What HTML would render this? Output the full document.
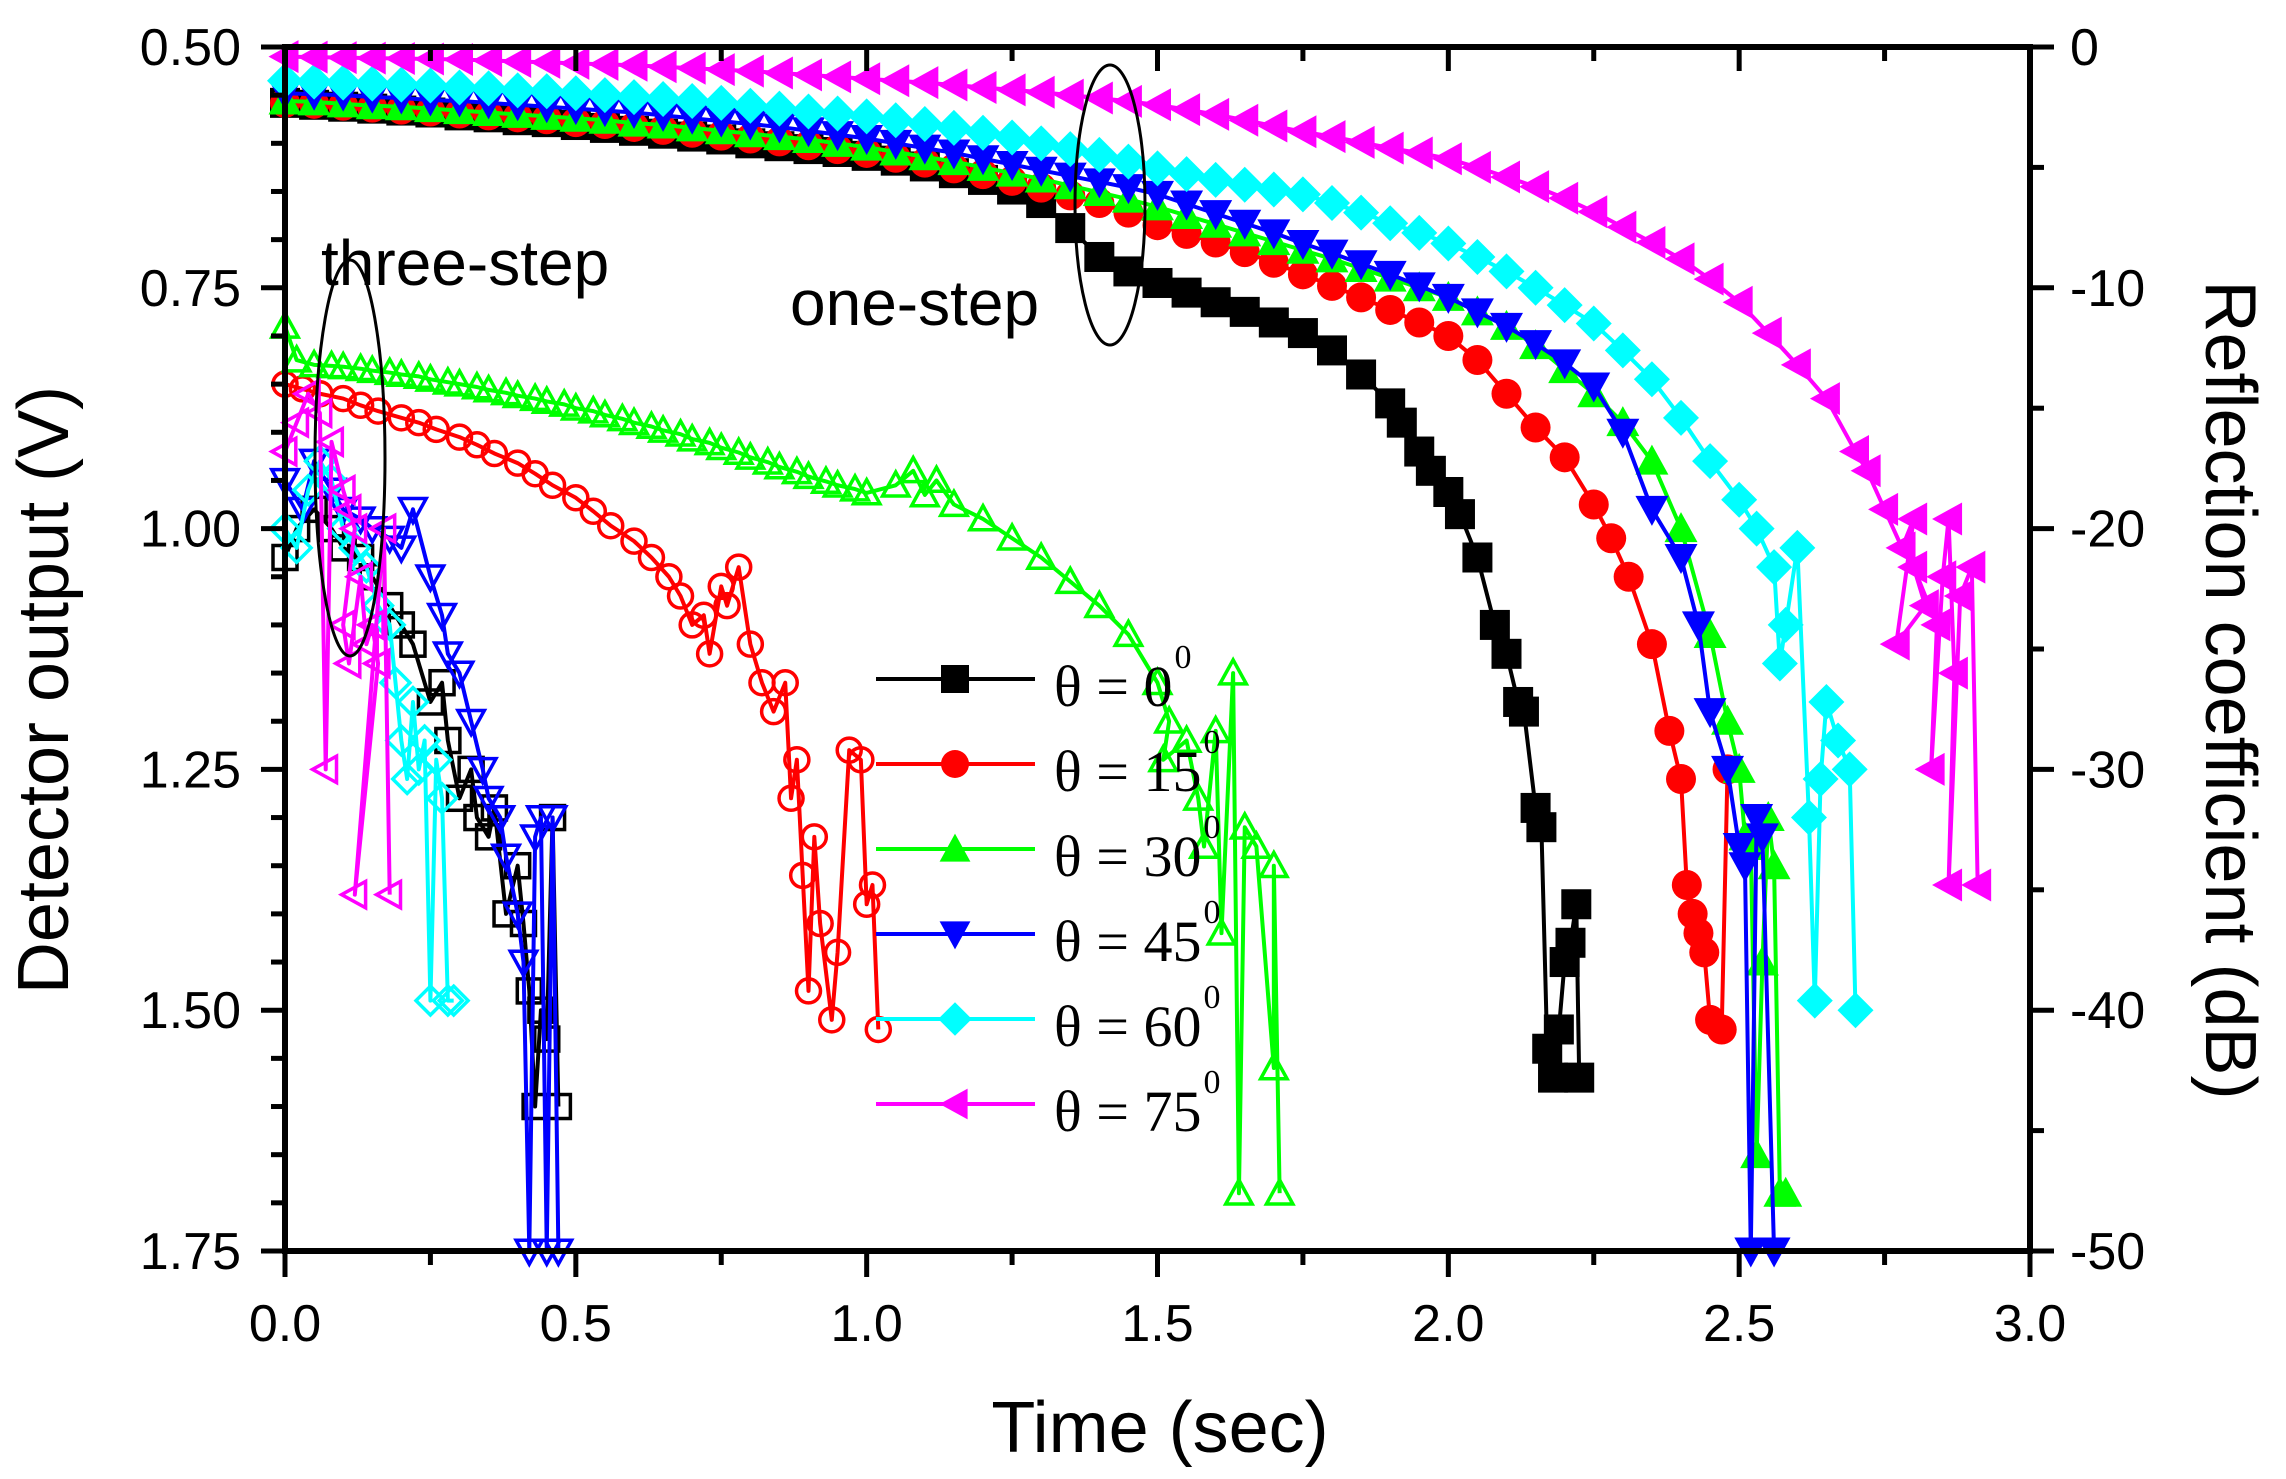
<!DOCTYPE html>
<html><head><meta charset="utf-8"><style>
html,body{margin:0;padding:0;background:#fff;}
svg{display:block;}
</style></head><body>
<svg id="chart" width="2286" height="1479" viewBox="0 0 2286 1479" xmlns="http://www.w3.org/2000/svg">
<rect width="2286" height="1479" fill="#fff"/>
<g id="marks"></g>
<g id="axes"></g>
<text transform="translate(68,690) rotate(-90)" text-anchor="middle" font-family="Liberation Sans, sans-serif" font-size="72">Detector output (V)</text>
<text transform="translate(2206,690) rotate(90)" text-anchor="middle" font-family="Liberation Sans, sans-serif" font-size="72">Reflection coefficient (dB)</text>
<text x="1160" y="1452" text-anchor="middle" font-family="Liberation Sans, sans-serif" font-size="72">Time (sec)</text>
<text x="321" y="285" font-family="Liberation Sans, sans-serif" font-size="64">three-step</text>
<text x="790" y="325" font-family="Liberation Sans, sans-serif" font-size="64">one-step</text>
<ellipse cx="350" cy="458" rx="35" ry="198" fill="none" stroke="#000" stroke-width="3"/>
<ellipse cx="1110" cy="205" rx="35" ry="140" fill="none" stroke="#000" stroke-width="3"/>
<g id="legend"></g>
</svg>
<script>
// ---- data (time in s, detector output in V) ----
const labels = ["0","15","30","45","60","75"];
const colors = ["#000000","#ff0000","#00ff00","#0000ff","#00ffff","#ff00ff"];
const shapes = ["square","circle","up","down","diamond","left"];

// one-step (filled markers)
const t0f=[0,0.05,0.1,0.15,0.2,0.25,0.3,0.35,0.4,0.45,0.5,0.55,0.6,0.65,0.7,0.75,0.8,0.85,0.9,0.95,1.0,1.05,1.1,1.15,1.2,1.25,1.3,1.35,1.4,1.45,1.5,1.55,1.6,1.65,1.7,1.75,1.8,1.85,1.9,1.92,1.95,1.97,2.0,2.02,2.05,2.08,2.1,2.12,2.13,2.15,2.16,2.17,2.18,2.19,2.2,2.21,2.22,2.225];
const v0f=[0.558,0.56,0.562,0.564,0.566,0.568,0.571,0.573,0.576,0.578,0.581,0.584,0.587,0.59,0.593,0.596,0.6,0.603,0.606,0.609,0.613,0.618,0.624,0.631,0.638,0.648,0.662,0.688,0.718,0.733,0.745,0.755,0.765,0.775,0.786,0.797,0.815,0.84,0.87,0.89,0.92,0.94,0.962,0.985,1.03,1.1,1.13,1.18,1.19,1.29,1.31,1.54,1.57,1.52,1.45,1.43,1.39,1.57];
const t15f=[0,0.05,0.1,0.15,0.2,0.25,0.3,0.35,0.4,0.45,0.5,0.55,0.6,0.65,0.7,0.75,0.8,0.85,0.9,0.95,1.0,1.05,1.1,1.15,1.2,1.25,1.3,1.35,1.4,1.45,1.5,1.55,1.6,1.65,1.7,1.75,1.8,1.85,1.9,1.95,2.0,2.05,2.1,2.15,2.2,2.25,2.28,2.31,2.35,2.38,2.4,2.41,2.42,2.43,2.44,2.45,2.47,2.48];
const v15f=[0.558,0.559,0.561,0.563,0.565,0.567,0.569,0.571,0.573,0.575,0.578,0.58,0.583,0.586,0.589,0.592,0.595,0.598,0.602,0.606,0.61,0.615,0.62,0.626,0.632,0.639,0.646,0.654,0.662,0.672,0.685,0.694,0.703,0.713,0.724,0.736,0.748,0.76,0.773,0.786,0.8,0.825,0.86,0.895,0.926,0.975,1.01,1.05,1.12,1.21,1.26,1.37,1.4,1.42,1.44,1.51,1.52,1.25];
const t30f=[0,0.05,0.1,0.15,0.2,0.25,0.3,0.35,0.4,0.45,0.5,0.55,0.6,0.65,0.7,0.75,0.8,0.85,0.9,0.95,1.0,1.05,1.1,1.15,1.2,1.25,1.3,1.35,1.4,1.45,1.5,1.55,1.6,1.65,1.7,1.75,1.8,1.85,1.9,1.95,2.0,2.05,2.1,2.15,2.2,2.25,2.3,2.35,2.4,2.45,2.48,2.5,2.51,2.52,2.53,2.54,2.55,2.56,2.57,2.58];
const v30f=[0.556,0.557,0.559,0.561,0.562,0.564,0.566,0.568,0.57,0.572,0.574,0.576,0.579,0.581,0.584,0.587,0.59,0.593,0.596,0.6,0.604,0.609,0.614,0.619,0.625,0.631,0.637,0.644,0.651,0.658,0.666,0.675,0.684,0.693,0.702,0.711,0.72,0.73,0.74,0.75,0.76,0.775,0.79,0.81,0.835,0.86,0.89,0.93,1.0,1.11,1.2,1.25,1.32,1.33,1.65,1.45,1.3,1.35,1.69,1.69];
const t45f=[0,0.05,0.1,0.15,0.2,0.25,0.3,0.35,0.4,0.45,0.5,0.55,0.6,0.65,0.7,0.75,0.8,0.85,0.9,0.95,1.0,1.05,1.1,1.15,1.2,1.25,1.3,1.35,1.4,1.45,1.5,1.55,1.6,1.65,1.7,1.75,1.8,1.85,1.9,1.95,2.0,2.05,2.1,2.15,2.2,2.25,2.3,2.35,2.4,2.43,2.45,2.48,2.5,2.51,2.52,2.53,2.54,2.56];
const v45f=[0.548,0.549,0.55,0.552,0.553,0.555,0.556,0.558,0.56,0.562,0.564,0.566,0.568,0.571,0.574,0.577,0.58,0.583,0.587,0.591,0.595,0.6,0.605,0.61,0.616,0.622,0.628,0.634,0.64,0.646,0.653,0.663,0.673,0.683,0.693,0.704,0.714,0.725,0.736,0.748,0.76,0.775,0.79,0.808,0.828,0.852,0.9,0.98,1.03,1.1,1.19,1.25,1.33,1.35,1.75,1.3,1.32,1.75];
const t60f=[0,0.05,0.1,0.15,0.2,0.25,0.3,0.35,0.4,0.45,0.5,0.55,0.6,0.65,0.7,0.75,0.8,0.85,0.9,0.95,1.0,1.05,1.1,1.15,1.2,1.25,1.3,1.35,1.4,1.45,1.5,1.55,1.6,1.65,1.7,1.75,1.8,1.85,1.9,1.95,2.0,2.05,2.1,2.15,2.2,2.25,2.3,2.35,2.4,2.45,2.5,2.53,2.56,2.57,2.58,2.6,2.62,2.63,2.64,2.65,2.67,2.69,2.7];
const v60f=[0.535,0.536,0.537,0.538,0.539,0.54,0.542,0.543,0.545,0.546,0.548,0.55,0.552,0.554,0.556,0.558,0.561,0.564,0.567,0.569,0.572,0.576,0.58,0.584,0.589,0.594,0.6,0.606,0.612,0.619,0.626,0.632,0.638,0.643,0.648,0.653,0.662,0.672,0.683,0.693,0.704,0.718,0.733,0.75,0.768,0.787,0.815,0.845,0.885,0.93,0.97,1.0,1.04,1.14,1.1,1.02,1.3,1.49,1.26,1.18,1.22,1.25,1.5];
const t75f=[0,0.05,0.1,0.15,0.2,0.25,0.3,0.35,0.4,0.45,0.5,0.55,0.6,0.65,0.7,0.75,0.8,0.85,0.9,0.95,1.0,1.05,1.1,1.15,1.2,1.25,1.3,1.35,1.4,1.45,1.5,1.55,1.6,1.65,1.7,1.75,1.8,1.85,1.9,1.95,2.0,2.05,2.1,2.15,2.2,2.25,2.3,2.35,2.4,2.45,2.5,2.55,2.6,2.65,2.7,2.72,2.75,2.78,2.8,2.77,2.82,2.8,2.84,2.83,2.85,2.86,2.87,2.86,2.88,2.9,2.91];
const v75f=[0.51,0.5105,0.511,0.5115,0.512,0.5125,0.513,0.514,0.515,0.516,0.517,0.518,0.519,0.5205,0.522,0.5235,0.525,0.527,0.529,0.531,0.533,0.535,0.537,0.5395,0.542,0.5445,0.547,0.55,0.553,0.5565,0.56,0.565,0.57,0.576,0.582,0.588,0.593,0.599,0.605,0.61,0.616,0.625,0.635,0.645,0.657,0.671,0.687,0.703,0.72,0.741,0.765,0.797,0.83,0.865,0.92,0.94,0.98,1.02,0.99,1.12,1.08,1.04,1.1,1.25,1.05,0.99,1.15,1.37,1.07,1.04,1.37];

// three-step (open markers)
const t0o=[0,0.02,0.05,0.08,0.1,0.13,0.15,0.18,0.2,0.22,0.25,0.27,0.28,0.3,0.32,0.33,0.35,0.36,0.38,0.4,0.41,0.42,0.43,0.44,0.45,0.46,0.47];
const v0o=[1.03,1.0,0.98,1.0,1.02,1.03,1.05,1.08,1.1,1.12,1.18,1.16,1.22,1.28,1.25,1.3,1.32,1.29,1.4,1.35,1.41,1.48,1.6,1.5,1.53,1.3,1.6];
const t15o=[0,0.03,0.06,0.1,0.13,0.16,0.2,0.23,0.26,0.3,0.33,0.36,0.4,0.43,0.46,0.5,0.53,0.56,0.6,0.63,0.66,0.68,0.7,0.72,0.73,0.75,0.76,0.78,0.8,0.82,0.84,0.86,0.87,0.88,0.89,0.9,0.91,0.92,0.94,0.95,0.97,0.99,1.0,1.01,1.02];
const v15o=[0.85,0.855,0.86,0.865,0.872,0.878,0.885,0.89,0.897,0.905,0.913,0.922,0.932,0.943,0.955,0.968,0.982,0.997,1.013,1.03,1.05,1.07,1.1,1.09,1.13,1.06,1.08,1.04,1.12,1.16,1.19,1.16,1.28,1.24,1.36,1.48,1.32,1.41,1.51,1.44,1.23,1.24,1.39,1.37,1.52];
const t30o=[0,0.02,0.05,0.08,0.1,0.13,0.15,0.18,0.2,0.23,0.25,0.28,0.3,0.33,0.35,0.38,0.4,0.43,0.45,0.48,0.5,0.53,0.55,0.58,0.6,0.63,0.65,0.68,0.7,0.73,0.75,0.78,0.8,0.83,0.85,0.88,0.9,0.93,0.95,0.98,1.0,1.05,1.08,1.1,1.12,1.15,1.2,1.25,1.3,1.35,1.4,1.45,1.5,1.52,1.51,1.55,1.57,1.58,1.6,1.61,1.63,1.64,1.65,1.67,1.7,1.7,1.71];
const v30o=[0.79,0.825,0.83,0.831,0.832,0.834,0.836,0.838,0.84,0.842,0.845,0.848,0.85,0.853,0.856,0.859,0.862,0.865,0.868,0.871,0.875,0.878,0.882,0.886,0.89,0.894,0.898,0.902,0.907,0.911,0.916,0.921,0.926,0.931,0.936,0.941,0.946,0.951,0.955,0.959,0.963,0.955,0.94,0.965,0.95,0.975,0.99,1.01,1.03,1.055,1.08,1.11,1.16,1.2,1.24,1.22,1.28,1.33,1.21,1.42,1.15,1.69,1.31,1.33,1.56,1.35,1.69];
const t45o=[0,0.03,0.05,0.08,0.1,0.13,0.15,0.18,0.2,0.22,0.25,0.27,0.28,0.3,0.32,0.34,0.35,0.37,0.38,0.4,0.41,0.42,0.43,0.44,0.45,0.46,0.47];
const v45o=[0.95,0.98,0.93,0.96,0.98,0.99,1.0,1.01,1.02,0.98,1.05,1.09,1.13,1.15,1.2,1.25,1.28,1.3,1.34,1.4,1.45,1.75,1.32,1.3,1.75,1.3,1.75];
const t60o=[0,0.02,0.04,0.06,0.08,0.1,0.12,0.14,0.16,0.18,0.19,0.2,0.21,0.22,0.23,0.24,0.25,0.26,0.27,0.28,0.29];
const v60o=[1.0,1.02,0.96,0.93,0.95,1.0,1.02,1.04,1.08,1.1,1.16,1.22,1.26,1.18,1.25,1.22,1.49,1.24,1.28,1.49,1.49];
const t75o=[0,0.02,0.04,0.06,0.07,0.08,0.1,0.11,0.12,0.1,0.11,0.13,0.14,0.15,0.16,0.12,0.17,0.18];
const v75o=[0.92,0.89,0.86,0.88,1.25,0.91,0.96,0.98,1.0,1.1,1.14,1.05,1.12,1.1,1.14,1.38,1.0,1.38];

const filledT=[t0f,t15f,t30f,t45f,t60f,t75f];
const filledV=[v0f,v15f,v30f,v45f,v60f,v75f];
const openT=[t0o,t15o,t30o,t45o,t60o,t75o];
const openV=[v0o,v15o,v30o,v45o,v60o,v75o];

const xTicks=[0,0.5,1.0,1.5,2.0,2.5,3.0];
const xTickLabels=["0.0","0.5","1.0","1.5","2.0","2.5","3.0"];
const yTicks=[0.5,0.75,1.0,1.25,1.5,1.75];
const yTickLabels=["0.50","0.75","1.00","1.25","1.50","1.75"];
const y2Ticks=[0,-10,-20,-30,-40,-50];
const y2TickLabels=["0","-10","-20","-30","-40","-50"];

// ---- axes geometry ----
const L=285,R=2030,T=47,B=1251;
const xS=t=>L+(t-0)*(R-L)/3;
const yS=v=>T+(v-0.5)*(B-T)/1.25;
const y2S=d=>T+(0-d)*(B-T)/50;
const NS="http://www.w3.org/2000/svg";
function mk(tag,attrs,parent){const e=document.createElementNS(NS,tag);for(const k in attrs)e.setAttribute(k,attrs[k]);parent.appendChild(e);return e;}

function marker(shape,x,y,s,color,filled,parent){
  const f=filled?color:"none",sw=filled?0:3.5;
  const h=s/2;let e;
  if(shape==="square"){e=mk("rect",{x:x-h,y:y-h,width:s,height:s,fill:f,stroke:color,"stroke-width":sw},parent);}
  else if(shape==="circle"){e=mk("circle",{cx:x,cy:y,r:h,fill:f,stroke:color,"stroke-width":sw},parent);}
  else{let p;
    if(shape==="up")p=[[x,y-h*1.1],[x+h*1.1,y+h*0.9],[x-h*1.1,y+h*0.9]];
    else if(shape==="down")p=[[x,y+h*1.1],[x+h*1.1,y-h*0.9],[x-h*1.1,y-h*0.9]];
    else if(shape==="diamond")p=[[x,y-h*1.2],[x+h*1.2,y],[x,y+h*1.2],[x-h*1.2,y]];
    else p=[[x-h*1.1,y],[x+h*0.9,y-h*1.1],[x+h*0.9,y+h*1.1]];
    e=mk("polygon",{points:p.map(q=>q.join(",")).join(" "),fill:f,stroke:color,"stroke-width":sw},parent);}
  return e;
}

const marks=document.getElementById("marks");
function drawSeries(ts,vs,i,filled){
  const g=mk("g",{},marks);
  
  
  const pts=ts.map((t,k)=>xS(t)+","+yS(vs[k])).join(" ");
  const pl=mk("polyline",{points:pts,fill:"none",stroke:colors[i],"stroke-width":4,"stroke-linejoin":"round"},g);
  
  
  ts.forEach((t,k)=>{
    const m=marker(shapes[i],xS(t),yS(vs[k]),filled?30:24,colors[i],filled,g);
    
    
  });
}
for(let i=0;i<6;i++)drawSeries(openT[i],openV[i],i,false);
for(let i=0;i<6;i++)drawSeries(filledT[i],filledV[i],i,true);

// ---- axes ----
const ax=document.getElementById("axes");
const frame=mk("rect",{x:L,y:T,width:R-L,height:B-T,fill:"none",stroke:"#000","stroke-width":6},ax);


const FF="Liberation Sans, sans-serif";
for(let k=0;k<=12;k++){const t=k*0.25,x=xS(t),maj=k%2===0;
  mk("line",{x1:x,y1:B,x2:x,y2:B+(maj?26:14),stroke:"#000","stroke-width":5},ax);
  mk("line",{x1:x,y1:T,x2:x,y2:T+(maj?24:14),stroke:"#000","stroke-width":5},ax);}
xTicks.forEach((t,k)=>{const e=mk("text",{x:xS(t),y:B+90,"text-anchor":"middle","font-family":FF,"font-size":52},ax);e.textContent=xTickLabels[k];
  
  });
for(let k=0;k<=25;k++){const v=0.5+k*0.05,y=yS(v),maj=k%5===0;
  mk("line",{x1:L,y1:y,x2:L-(maj?24:14),y2:y,stroke:"#000","stroke-width":5},ax);}
yTicks.forEach((v,k)=>{const e=mk("text",{x:L-44,y:yS(v)+18,"text-anchor":"end","font-family":FF,"font-size":52},ax);e.textContent=yTickLabels[k];
  
  });
for(let k=0;k<=10;k++){const d=-k*5,y=y2S(d),maj=k%2===0;
  mk("line",{x1:R,y1:y,x2:R+(maj?24:14),y2:y,stroke:"#000","stroke-width":5},ax);}
y2Ticks.forEach((d,k)=>{const e=mk("text",{x:R+40,y:y2S(d)+18,"text-anchor":"start","font-family":FF,"font-size":52},ax);e.textContent=y2TickLabels[k];
  
  });

// ---- legend ----
const lg=document.getElementById("legend");
for(let i=0;i<6;i++){const y=679+i*85;
  const g=mk("g",{},lg);
  
  
  mk("line",{x1:876,y1:y,x2:1035,y2:y,stroke:colors[i],"stroke-width":4},g);
  marker(shapes[i],955,y,28,colors[i],true,g);
  const tx=mk("text",{x:1054,y:y+27,"font-family":"Liberation Serif, serif","font-size":58},g);
  tx.textContent="\u03B8 = "+labels[i];
  const sup=mk("text",{x:1054+tx.getComputedTextLength()+2,y:y-11,"font-family":"Liberation Serif, serif","font-size":34},g);
  sup.textContent="0";
}
</script>
</body></html>
